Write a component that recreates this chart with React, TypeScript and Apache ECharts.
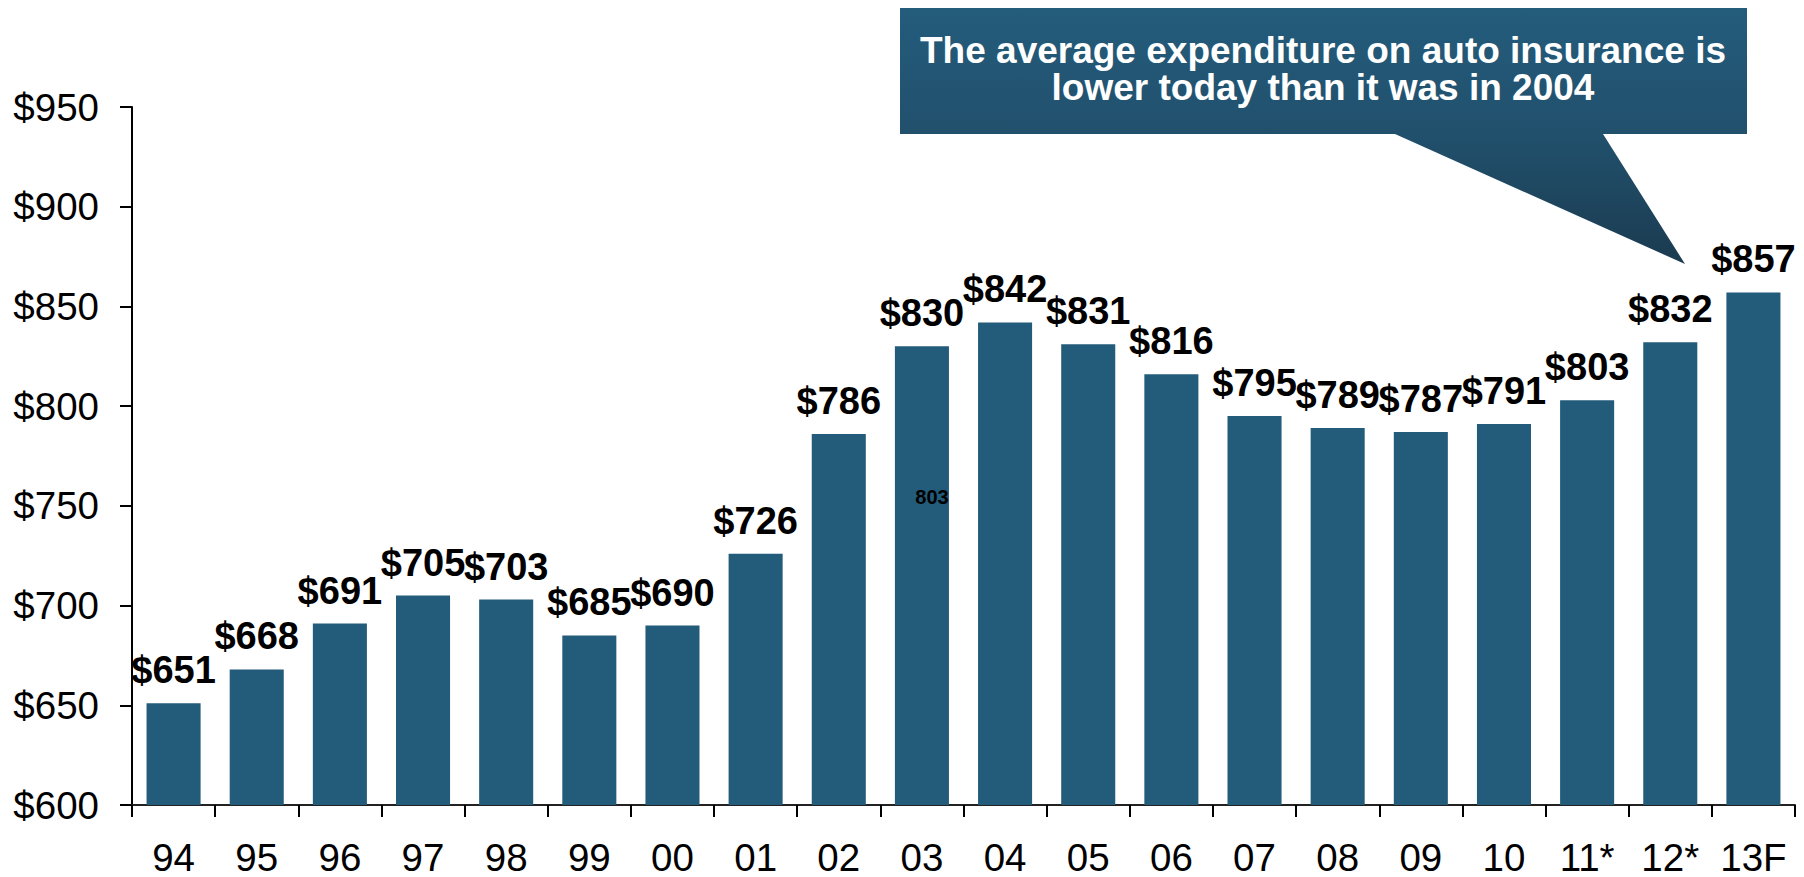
import React, { useEffect, useRef } from "react";
import * as echarts from "echarts";

const categories = ["94", "95", "96", "97", "98", "99", "00", "01", "02", "03", "04", "05", "06", "07", "08", "09", "10", "11*", "12*", "13F"];
const expenditure = [651, 668, 691, 705, 703, 685, 690, 726, 786, 830, 842, 831, 816, 795, 789, 787, 791, 803, 832, 857];
const yTicks = { min: 600, max: 950, interval: 50 };
const calloutLines = ["The average expenditure on auto insurance is", "lower today than it was in 2004"];
const strayNote = "803";

const FONT = "'Liberation Sans', Arial, Helvetica, sans-serif";

export default function App() {
  const ref = useRef<HTMLDivElement>(null);
  useEffect(() => {
    if (!ref.current) return;
    const chart = echarts.init(ref.current, undefined, { renderer: "svg" });
    chart.setOption({
      animation: false,
      backgroundColor: "#ffffff",
      grid: { left: 132, right: 9, top: 107, bottom: 72, containLabel: false },
      xAxis: {
        type: "category",
        data: categories,
        axisLine: { show: true, lineStyle: { color: "#222", width: 2 } },
        axisTick: { show: true, interval: 0, length: 12, lineStyle: { color: "#000", width: 2 } },
        axisLabel: { interval: 0, fontSize: 38.5, lineHeight: 36, color: "#000", fontFamily: FONT, margin: 34 },
        splitLine: { show: false },
      },
      yAxis: {
        type: "value",
        min: yTicks.min,
        max: yTicks.max,
        interval: yTicks.interval,
        axisLine: { show: true, lineStyle: { color: "#000", width: 2 } },
        axisTick: { show: true, length: 12, lineStyle: { color: "#000", width: 2 } },
        axisLabel: { fontSize: 38.5, color: "#000", fontFamily: FONT, margin: 33, formatter: (v: number) => "$" + v },
        splitLine: { show: false },
      },
      series: [
        {
          type: "bar",
          data: expenditure,
          barCategoryGap: "35%",
          itemStyle: { color: "#235B7A" },
          label: {
            show: true,
            position: "top",
            distance: 14,
            fontSize: 38,
            fontWeight: "bold",
            color: "#000",
            fontFamily: FONT,
            formatter: (p: any) => "$" + p.value,
          },
        },
      ],
      graphic: [
        {
          type: "polygon",
          z: 100,
          shape: {
            points: [
              [900, 8],
              [1747, 8],
              [1747, 134],
              [1603, 134],
              [1685, 264],
              [1395, 134],
              [900, 134],
            ],
          },
          style: {
            fill: new echarts.graphic.LinearGradient(0, 0, 0, 1, [
              { offset: 0, color: "#245C7C" },
              { offset: 0.5, color: "#21506C" },
              { offset: 1, color: "#1B3B50" },
            ]),
          },
        },
        {
          type: "text",
          z: 101,
          x: 1323,
          y: 68.5,
          style: {
            text: calloutLines.join("\n"),
            fill: "#ffffff",
            font: "bold 37px " + FONT,
            lineHeight: 37,
            textAlign: "center",
            textVerticalAlign: "middle",
          },
        },
        {
          type: "text",
          z: 101,
          x: 932,
          y: 497,
          style: {
            text: strayNote,
            fill: "#000",
            font: "bold 20px " + FONT,
            textAlign: "center",
            textVerticalAlign: "middle",
          },
        },
      ],
    });
    return () => chart.dispose();
  }, []);
  return <div ref={ref} style={{ position: "fixed", left: 0, top: 0, width: 1804, height: 877 }} />;
}
